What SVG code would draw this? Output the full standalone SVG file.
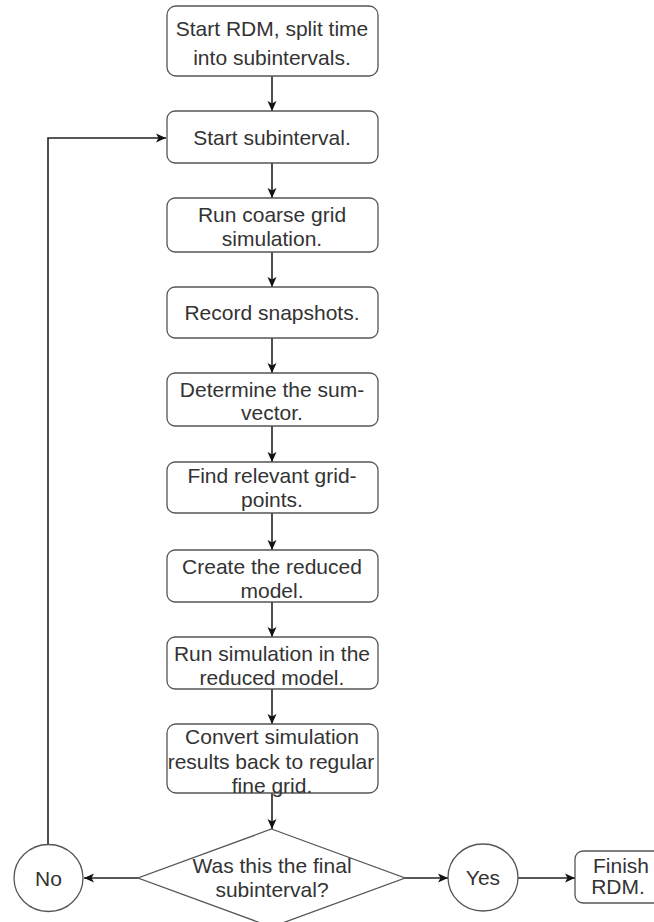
<svg xmlns="http://www.w3.org/2000/svg" width="654" height="922" viewBox="0 0 654 922">
<style>
.box{fill:#fff;stroke:#555;stroke-width:1.3}
.t{font-family:"Liberation Sans",Arial,sans-serif;font-size:21px;fill:#333;text-anchor:middle}
.e{fill:none;stroke:#222;stroke-width:1.6}
</style>
<defs>
<marker id="ah" markerUnits="userSpaceOnUse" markerWidth="12" markerHeight="10" refX="10" refY="5" orient="auto">
<path d="M0,0.5 L10,5 L0,9.5 L2.5,5 z" fill="#111"/>
</marker>
</defs>
<rect width="654" height="922" fill="#fff"/>
<g id="connectors">
<path class="e" d="M272,76 V111" marker-end="url(#ah)"/>
<path class="e" d="M272,163 V198" marker-end="url(#ah)"/>
<path class="e" d="M272,252 V287" marker-end="url(#ah)"/>
<path class="e" d="M272,338 V373" marker-end="url(#ah)"/>
<path class="e" d="M272,426 V462" marker-end="url(#ah)"/>
<path class="e" d="M272,513 V550" marker-end="url(#ah)"/>
<path class="e" d="M272,602 V637" marker-end="url(#ah)"/>
<path class="e" d="M272,689 V724" marker-end="url(#ah)"/>
<path class="e" d="M272,793 V829" marker-end="url(#ah)"/>
<path class="e" d="M138,878 H84" marker-end="url(#ah)"/>
<path class="e" d="M48,844 V138 H166" marker-end="url(#ah)"/>
<path class="e" d="M405,878 H448" marker-end="url(#ah)"/>
<path class="e" d="M518,878 H575" marker-end="url(#ah)"/>
</g>
<g id="n1"><rect class="box" x="167" y="6" width="211" height="70" rx="9"/>
<text class="t" x="272" y="36">Start RDM, split time</text><text class="t" x="272" y="65">into subintervals.</text></g>
<g id="n2"><rect class="box" x="167" y="111" width="211" height="52" rx="8"/>
<text class="t" x="272" y="144.5">Start subinterval.</text></g>
<g id="n3"><rect class="box" x="167" y="198" width="211" height="54" rx="8"/>
<text class="t" x="272" y="222">Run coarse grid</text><text class="t" x="272" y="245.5">simulation.</text></g>
<g id="n4"><rect class="box" x="167" y="287" width="211" height="51" rx="8"/>
<text class="t" x="272" y="320">Record snapshots.</text></g>
<g id="n5"><rect class="box" x="167" y="373" width="211" height="53" rx="8"/>
<text class="t" x="272" y="397">Determine the sum-</text><text class="t" x="272" y="420">vector.</text></g>
<g id="n6"><rect class="box" x="167" y="462" width="211" height="51" rx="8"/>
<text class="t" x="272" y="483">Find relevant grid-</text><text class="t" x="272" y="507">points.</text></g>
<g id="n7"><rect class="box" x="167" y="550" width="211" height="52" rx="8"/>
<text class="t" x="272" y="574">Create the reduced</text><text class="t" x="272" y="597.5">model.</text></g>
<g id="n8"><rect class="box" x="167" y="637" width="211" height="52" rx="8"/>
<text class="t" x="272" y="661">Run simulation in the</text><text class="t" x="272" y="684.5">reduced model.</text></g>
<g id="n9"><rect class="box" x="167" y="724" width="211" height="69" rx="9"/>
<text class="t" x="272" y="743.5">Convert simulation</text><text class="t" x="271" y="768.5">results back to regular</text><text class="t" x="272" y="792.5">fine grid.</text></g>
<g id="decision"><path class="box" d="M271.5,829 L405,878 L271.5,927 L138,878 z"/>
<text class="t" x="272" y="872.5">Was this the final</text><text class="t" x="272" y="896.5">subinterval?</text></g>
<g id="no"><ellipse class="box" cx="48.5" cy="878" rx="34.5" ry="33.5"/>
<text class="t" x="48.5" y="885.5">No</text></g>
<g id="yes"><ellipse class="box" cx="483" cy="877.5" rx="35" ry="33.5"/>
<text class="t" x="483" y="885">Yes</text></g>
<g id="finish"><rect class="box" x="575" y="851" width="92" height="52" rx="8"/>
<text class="t" x="621" y="873">Finish</text><text class="t" x="618" y="894">RDM.</text></g>
</svg>
